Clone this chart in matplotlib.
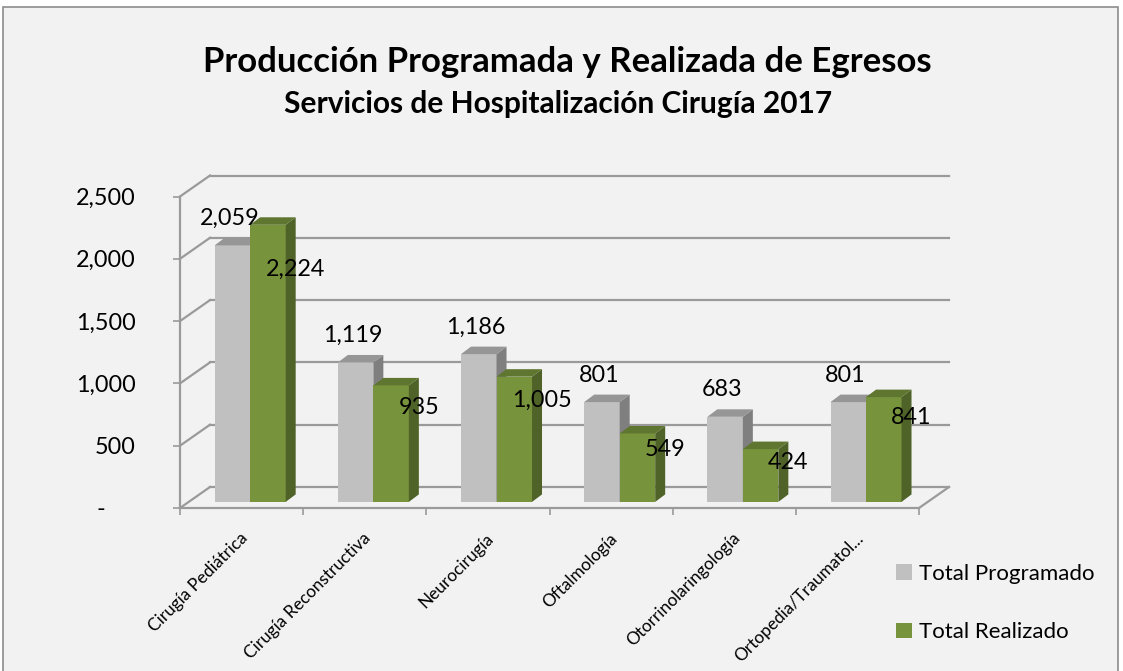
import matplotlib
matplotlib.use("Agg")
import matplotlib.pyplot as plt
from matplotlib.patches import Polygon, Patch, Rectangle

# --- data ---
categories = ["Cirugía Pediátrica", "Cirugía Reconstructiva", "Neurocirugía",
              "Oftalmología", "Otorrinolaringología", "Ortopedia/Traumatol..."]
programado = [2059, 1119, 1186, 801, 683, 801]
realizado = [2224, 935, 1005, 549, 424, 841]
y_ticks = [0, 500, 1000, 1500, 2000, 2500]
y_labels = ["-     ", "500", "1,000", "1,500", "2,000", "2,500"]
series_names = ["Total Programado", "Total Realizado"]

# --- style ---
FONT = "Lato"
BG = "#f2f2f2"
GRID = "#9a9a9a"
GRAY = ("#c0c0c0", "#969696", "#7f7f7f")    # front, top, side
GREEN = ("#77933c", "#5f7630", "#4f6228")

W, H, DPI = 1123, 671, 100
# front plane of the 3D box in pixels
FX0, FX1, FY0, FY1 = 180, 919, 508, 196.5
YMAX = 2500
PX_X = len(categories) / (FX1 - FX0)   # data units per px (x)
PX_Y = YMAX / (FY0 - FY1)              # data units per px (y)

DEPTH = (30 * PX_X, 21 * PX_Y)         # back wall offset
MID = (8.6 * PX_X, 6.1 * PX_Y)         # bars sit this deep
BAR_D = (10 * PX_X, 7.5 * PX_Y)        # bar depth
BAR_W = 35.5 * PX_X

fig = plt.figure(figsize=(W / DPI, H / DPI), dpi=DPI, facecolor="white")
fig.patches.append(Rectangle((3 / W, -0.01), (1118 - 3) / W, 1 - 7 / H + 0.01,
                             transform=fig.transFigure, facecolor=BG,
                             edgecolor="#8c8c8c", lw=1.2, zorder=-10))

ax = fig.add_axes([FX0 / W, 1 - FY0 / H, (FX1 - FX0) / W, (FY0 - FY1) / H])
ax.set_facecolor("none")
ax.set_xlim(-0.5, len(categories) - 0.5)
ax.set_ylim(0, YMAX)
for s in ax.spines.values():
    s.set_visible(False)

xl, xr = -0.5, len(categories) - 0.5
dx, dy = DEPTH
# back wall gridlines + left wall diagonals
for v in y_ticks:
    ax.plot([xl + dx, xr + dx], [v + dy, v + dy], color=GRID, lw=1.6, clip_on=False, zorder=1)
    ax.plot([xl, xl + dx], [v, v + dy], color=GRID, lw=1.6, clip_on=False, zorder=1)
# floor edges and front axis
ax.plot([xl, xr], [0, 0], color=GRID, lw=1.6, clip_on=False, zorder=1)
ax.plot([xr, xr + dx], [0, dy], color=GRID, lw=1.6, clip_on=False, zorder=1)
ax.plot([xl, xl], [0, YMAX], color=GRID, lw=1.6, clip_on=False, zorder=1)


def bar3d(xs, vals, colors, z):
    front, top, side = colors
    base = MID[1]
    bars = ax.bar(xs, vals, width=BAR_W, bottom=base, align="edge",
                  color=front, lw=0, zorder=z, clip_on=False)
    bdx, bdy = BAR_D
    for rect in bars:
        x0 = rect.get_x()
        x1 = x0 + rect.get_width()
        y0 = rect.get_y()
        y1 = y0 + rect.get_height()
        ax.add_patch(Polygon([(x1, y0), (x1 + bdx, y0 + bdy), (x1 + bdx, y1 + bdy), (x1, y1)],
                             closed=True, facecolor=side, lw=0, zorder=z, clip_on=False))
        ax.add_patch(Polygon([(x0, y1), (x0 + bdx, y1 + bdy), (x1 + bdx, y1 + bdy), (x1, y1)],
                             closed=True, facecolor=top, lw=0, zorder=z, clip_on=False))
    return bars


idx = list(range(len(categories)))
gx = [i + MID[0] - BAR_W for i in idx]
rx = [i + MID[0] for i in idx]
bars_g = bar3d(gx, programado, GRAY, 3)
bars_r = bar3d(rx, realizado, GREEN, 4)

# data labels
for rect, v in zip(bars_g, programado):
    ax.text(rect.get_x() + rect.get_width() / 2 - 3 * PX_X, rect.get_y() + v + 27 * PX_Y,
            f"{v:,}", ha="center", va="center", fontsize=16.8, family=FONT, zorder=6)
for rect, v in zip(bars_r, realizado):
    ax.text(rect.get_x() + rect.get_width() + 10 * PX_X, 0.86 * v,
            f"{v:,}", ha="center", va="center", fontsize=16.8, family=FONT, zorder=6)

# axes ticks
ax.set_yticks(y_ticks, y_labels)
ax.tick_params(axis="y", length=5, width=1.2, color=GRID, pad=27,
               labelsize=16.8, labelfontfamily=FONT)
ax.set_xticks([i - 0.5 for i in range(len(categories) + 1)], minor=False)
ax.set_xticklabels([])
ax.tick_params(axis="x", length=5, width=1.2, color=GRID, direction="out")
for i, name in enumerate(categories):
    ax.text(i + 9 * PX_X, -22 * PX_Y, name, rotation=45, ha="right", va="top",
            rotation_mode="default", fontsize=12.4, family=FONT, clip_on=False)

# titles
fig.text(567 / W, 1 - 62 / H, "Producción Programada y Realizada de Egresos",
         ha="center", va="center", fontsize=25, weight="bold", family=FONT)
fig.text(558 / W, 1 - 104 / H, "Servicios de Hospitalización Cirugía 2017",
         ha="center", va="center", fontsize=21.5, weight="bold", family=FONT)

# legend
handles = [Patch(facecolor=GRAY[0]), Patch(facecolor=GREEN[0])]
fig.legend(handles, series_names, loc="center left",
           bbox_to_anchor=(876 / W, 1 - 603 / H), frameon=False,
           prop={"family": FONT, "size": 16}, handlelength=0.7, handleheight=0.7,
           handletextpad=0.35, labelspacing=1.75)

fig.savefig("out.png", dpi=DPI, facecolor="white")
